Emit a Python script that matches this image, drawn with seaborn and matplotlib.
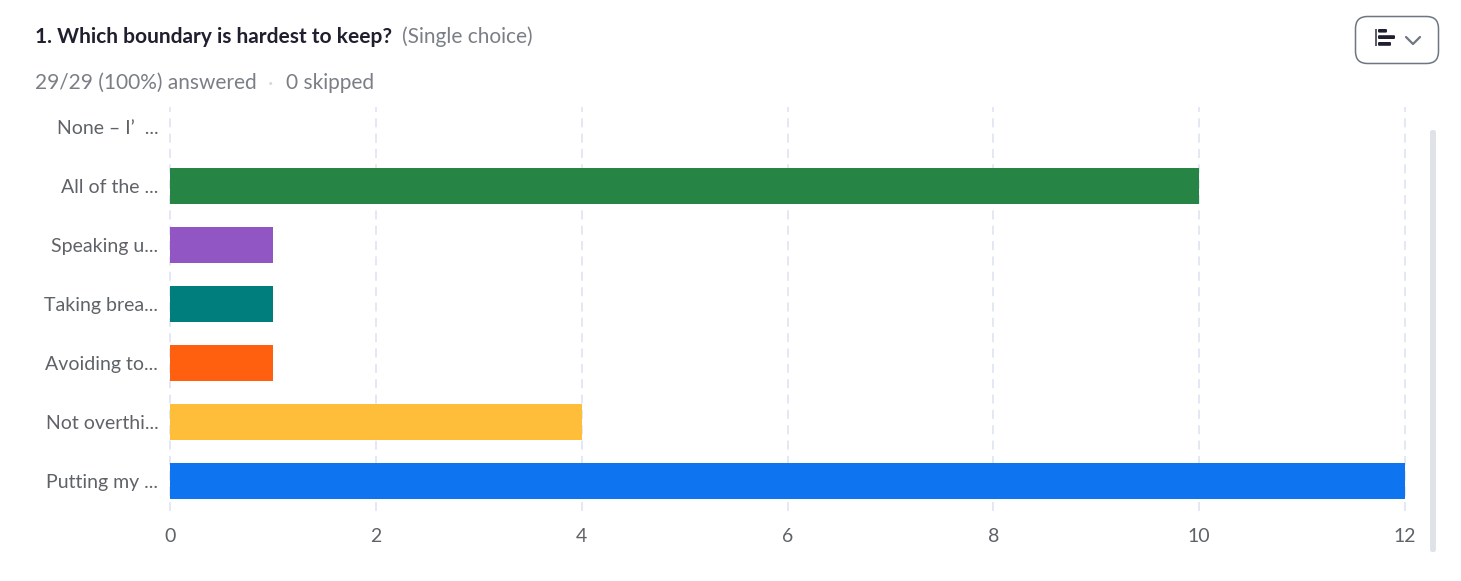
import matplotlib
matplotlib.use('Agg')
import matplotlib.pyplot as plt
from matplotlib.patches import FancyBboxPatch, Rectangle
from matplotlib.lines import Line2D
import pandas as pd
import seaborn as sns

labels = ['None – I’  ...', 'All of the ...', 'Speaking u...', 'Taking brea...',
          'Avoiding to...', 'Not overthi...', 'Putting my ...']
counts = [0, 10, 1, 1, 1, 4, 12]
colors = ['#8c8c8c', '#268545', '#9155c4', '#007e7e', '#ff6010', '#ffbe3a', '#0e74ef']
xticks = [0, 2, 4, 6, 8, 10, 12]

W, H = 1461, 581
sns.set_theme(style='white')
plt.rcParams['font.family'] = ['Lato', 'DejaVu Sans']

df = pd.DataFrame({'label': labels, 'count': counts})

fig = plt.figure(figsize=(W / 100, H / 100), dpi=100)
ax = fig.add_axes([170 / W, 1 - 511 / H, (1405 - 170) / W, (511 - 107) / H])
sns.barplot(data=df, y='label', x='count', hue='label', palette=colors, legend=False,
            width=0.61, saturation=1, linewidth=0, edgecolor='none', ax=ax, zorder=3)

ax.set_xlim(0, 12)
ax.set_ylim(6.5, -0.34)
ax.set_xticks(xticks)
ax.set_xlabel('')
ax.set_ylabel('')
ax.xaxis.grid(True, color='#e2e5f3', linestyle=(0, (5, 3.5)), linewidth=1.3)
ax.set_axisbelow(True)
sns.despine(ax=ax, left=True, bottom=True, top=True, right=True)
ax.tick_params(axis='x', length=0, pad=12, labelsize=14, labelcolor='#5f6368')
ax.tick_params(axis='y', length=0, pad=8.4, labelsize=14, labelcolor='#5f6368')
for g in ax.get_xgridlines():
    g.set_clip_on(False)


def px(x, y):
    return x / W, 1 - y / H


# header text
fig.text(*px(35, 37), '1. Which boundary is hardest to keep?', fontsize=15, fontweight='bold',
         color='#1f1f2e', va='center', ha='left')
fig.text(*px(402, 37), '(Single choice)', fontsize=15, color='#7b7f85', va='center', ha='left')
fig.text(*px(35, 83), '29/29 (100%) answered', fontsize=15, color='#7b7f85', va='center', ha='left')
fig.text(*px(271, 84), '·', fontsize=15, color='#d5d8dc', va='center', ha='center')
fig.text(*px(286, 83), '0 skipped', fontsize=15, color='#7b7f85', va='center', ha='left')

# chart type button and scrollbar, in pixel coordinates
ui = fig.add_axes([0, 0, 1, 1], zorder=5)
ui.set_xlim(0, W)
ui.set_ylim(H, 0)
ui.axis('off')
ui.patch.set_alpha(0)
ui.add_patch(FancyBboxPatch((1355.5, 16.5), 83, 47, boxstyle='round,pad=0,rounding_size=12',
                            facecolor='white', edgecolor='#6e7681', lw=1.1))
ui.add_patch(Rectangle((1375, 29), 2, 17, facecolor='#5a5e6a', edgecolor='none'))
ui.add_patch(FancyBboxPatch((1378, 29), 9, 3.6, boxstyle='round,pad=0,rounding_size=1.2', facecolor='#1f1f2e', edgecolor='none'))
ui.add_patch(FancyBboxPatch((1378, 35.2), 17, 3.8, boxstyle='round,pad=0,rounding_size=1.2', facecolor='#1f1f2e', edgecolor='none'))
ui.add_patch(FancyBboxPatch((1378, 42), 13, 3.8, boxstyle='round,pad=0,rounding_size=1.2', facecolor='#1f1f2e', edgecolor='none'))
ui.add_line(Line2D([1406, 1413, 1420], [37, 44, 37], color='#6e7681', lw=1.6))
ui.add_patch(FancyBboxPatch((1430, 130), 6, 422, boxstyle='round,pad=0,rounding_size=2.5',
                            facecolor='#dfe2e6', edgecolor='none'))

fig.savefig('out.png', dpi=100, facecolor='white')
